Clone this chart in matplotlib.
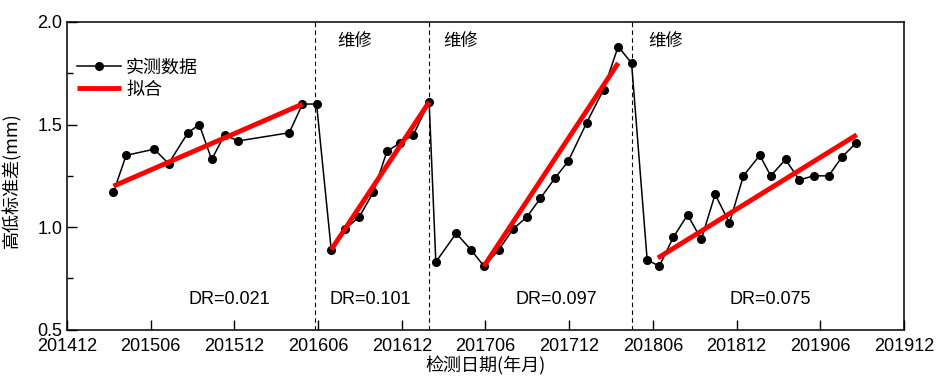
import matplotlib
matplotlib.use('Agg')
import matplotlib.pyplot as plt
import numpy as np

plt.rcParams['font.family'] = ['Liberation Sans', 'Noto Sans CJK SC', 'DejaVu Sans']

# x = months after 201412
tick_labels = ['201412', '201506', '201512', '201606', '201612', '201706',
               '201712', '201806', '201812', '201906', '201912']
tick_pos = [0, 6, 12, 18, 24, 30, 36, 42, 48, 54, 60]

# measured data
t_meas = [3.33, 4.24, 6.25, 7.28, 8.67, 9.48, 10.37, 11.3, 12.26, 15.93, 16.88, 17.89,
          18.94, 19.92, 20.95, 21.96, 22.94, 23.87, 24.83, 25.96,
          26.44, 27.9, 28.95, 29.89, 30.96, 31.97, 32.97, 33.93, 34.99, 35.92,
          37.26, 38.46, 39.51, 40.47,
          41.59, 42.46, 43.46, 44.49, 45.47, 46.46, 47.49, 48.49, 49.66, 50.45,
          51.51, 52.49, 53.52, 54.6, 55.53, 56.56]
v_meas = [1.17, 1.35, 1.38, 1.31, 1.46, 1.50, 1.33, 1.45, 1.42, 1.46, 1.60, 1.60,
          0.89, 0.99, 1.05, 1.17, 1.37, 1.41, 1.45, 1.61,
          0.83, 0.97, 0.89, 0.81, 0.89, 0.99, 1.05, 1.14, 1.24, 1.32,
          1.51, 1.67, 1.88, 1.80,
          0.84, 0.81, 0.95, 1.06, 0.94, 1.16, 1.02, 1.25, 1.35, 1.25,
          1.33, 1.23, 1.25, 1.25, 1.34, 1.41]

# fitted lines (start, end)
fit_t = [(3.33, 16.88), (18.94, 25.96), (29.89, 39.51), (42.36, 56.61)]
fit_v = [(1.20, 1.60), (0.89, 1.61), (0.81, 1.80), (0.85, 1.45)]

repair_t = [17.77, 25.98, 40.5]
repair_label_t = [19.35, 27.0, 41.67]
dr_text = ['DR=0.021', 'DR=0.101', 'DR=0.097', 'DR=0.075']
dr_t = [11.64, 21.77, 35.06, 50.4]

fig = plt.figure(figsize=(9.45, 3.85), dpi=100)
ax = fig.add_axes([0.0709, 0.1436, 0.8857, 0.7993])

ax.plot(t_meas, v_meas, '-o', color='black', lw=1.1, ms=5.5, label='实测数据', zorder=3)
for i in range(len(fit_t)):
    ax.plot(fit_t[i], fit_v[i], color='red', lw=3.5, solid_capstyle='butt',
            label='拟合' if i == 0 else None, zorder=4)

for x in repair_t:
    ax.axvline(x, color='black', ls=(0, (4, 3)), lw=0.8, zorder=1)
for x in repair_label_t:
    ax.text(x, 1.905, '维修', fontsize=12.5, family=['Noto Sans CJK SC'], va='center', ha='left')
for s, x in zip(dr_text, dr_t):
    ax.text(x, 0.645, s, fontsize=13, ha='center', va='center')

ax.set_xlim(0, 60)
ax.set_ylim(0.5, 2.0)
ax.set_xticks(tick_pos)
ax.set_xticklabels(tick_labels)
ax.set_yticks([0.5, 1.0, 1.5, 2.0])
ax.set_yticks(np.arange(0.75, 2.0, 0.5), minor=True)
ax.tick_params(axis='both', which='major', direction='in', length=7, width=1, labelsize=13)
ax.tick_params(axis='y', which='minor', direction='in', length=4, width=1)
ax.tick_params(axis='x', pad=6)
for sp in ax.spines.values():
    sp.set_linewidth(1.1)

ax.set_xlabel('检测日期(年月)', fontsize=13, family=['Noto Sans CJK SC'], labelpad=1)
ax.set_ylabel('高低标准差(mm)', fontsize=13, family=['Noto Sans CJK SC'])
ax.yaxis.set_label_coords(-0.054, 0.485)

ax.legend(loc='upper left', bbox_to_anchor=(-0.007, 0.935), frameon=False,
          handlelength=2.4, handletextpad=0.3, labelspacing=0.25,
          prop={'family': ['Noto Sans CJK SC'], 'size': 13})

fig.savefig('out.png', dpi=100)
